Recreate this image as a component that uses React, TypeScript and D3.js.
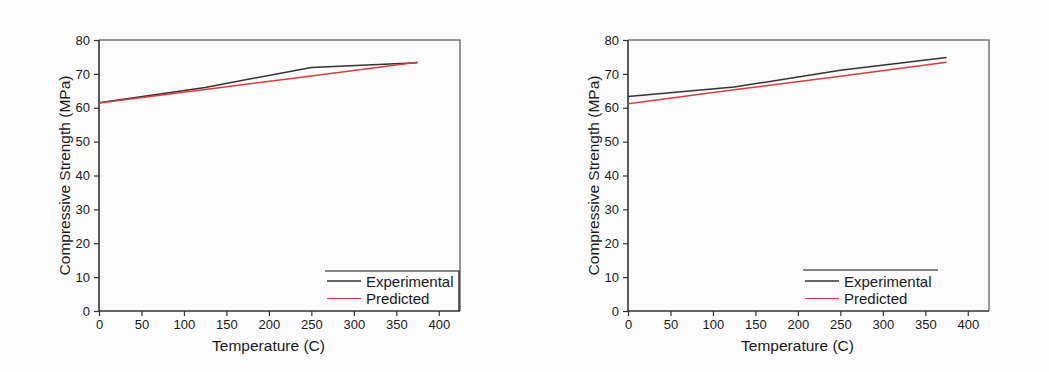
import React, { useEffect, useRef } from "react";
import * as d3 from "d3";

// temperatures where the curves were sampled
const temps = [0, 125, 250, 375];

// left panel
const leftExperimental = [61.5, 66.0, 71.9, 73.3];
const leftPredicted = [61.4, 65.4, 69.4, 73.4];

// right panel
const rightExperimental = [63.3, 66.1, 71.1, 74.8];
const rightPredicted = [61.2, 65.3, 69.3, 73.4];

const xTicks = [0, 50, 100, 150, 200, 250, 300, 350, 400];
const yTicks = [0, 10, 20, 30, 40, 50, 60, 70, 80];
const legendLabels = ["Experimental", "Predicted"];

const FONT = "'Liberation Sans', Arial, sans-serif";

function Panel({ left, experimental, predicted, legendBox }) {
  const gRef = useRef(null);
  const top = 40;
  const bottom = 311;
  const right = left + 361;

  useEffect(() => {
    const g = d3.select(gRef.current);
    g.selectAll("*").remove();

    const x = d3.scaleLinear().domain([0, 425]).range([left, right]);
    const y = d3.scaleLinear().domain([0, 80]).range([bottom, top]);

    // frame (top + right lighter)
    g.append("path")
      .attr("d", `M${left},${top}H${right}V${bottom}`)
      .attr("fill", "none")
      .attr("stroke", "#777")
      .attr("stroke-width", 1.5);

    // x axis
    const xa = g.append("g").attr("transform", `translate(0,${bottom})`);
    xa.call(
      d3.axisBottom(x).tickValues(d3.range(0, 426, 25)).tickSize(3).tickFormat(() => "")
    );
    xa.call(
      d3.axisBottom(x).tickValues(xTicks).tickSize(5).tickPadding(4)
    );
    xa.selectAll("path.domain").remove();

    const ya = g.append("g").attr("transform", `translate(${left},0)`);
    ya.call(
      d3.axisLeft(y).tickValues(d3.range(0, 81, 5)).tickSize(3).tickFormat(() => "")
    );
    ya.call(d3.axisLeft(y).tickValues(yTicks).tickSize(5).tickPadding(4));
    ya.selectAll("path.domain").remove();

    g.selectAll(".tick line").attr("stroke", "#333").attr("stroke-width", 1.2);
    g.selectAll(".tick text")
      .attr("fill", "#1a1a1a")
      .style("font-family", FONT)
      .style("font-size", "13px");

    // axis lines
    g.append("path")
      .attr("d", `M${left},${top}V${bottom}H${right}`)
      .attr("fill", "none")
      .attr("stroke", "#333")
      .attr("stroke-width", 1.6);

    const line = d3
      .line<number>()
      .x((_, i) => x(temps[i]))
      .y((d) => y(d));

    g.append("path")
      .datum(experimental)
      .attr("d", line)
      .attr("fill", "none")
      .attr("stroke", "#333")
      .attr("stroke-width", 1.5)
      .attr("stroke-linejoin", "round");

    g.append("path")
      .datum(predicted)
      .attr("d", line)
      .attr("fill", "none")
      .attr("stroke", "#e03a3a")
      .attr("stroke-width", 1.5);

    // titles
    g.append("text")
      .attr("x", (left + right) / 2 - 11)
      .attr("y", 351)
      .attr("text-anchor", "middle")
      .attr("fill", "#1a1a1a")
      .style("font-family", FONT)
      .style("font-size", "15.5px")
      .text("Temperature (C)");

    g.append("text")
      .attr("transform", `translate(${left - 29},${(top + bottom) / 2}) rotate(-90)`)
      .attr("text-anchor", "middle")
      .attr("fill", "#1a1a1a")
      .style("font-family", FONT)
      .style("font-size", "15.5px")
      .text("Compressive Strength (MPa)");

    // legend
    const lg = g.append("g");
    lg.append("path")
      .attr("d", legendBox.path)
      .attr("fill", "none")
      .attr("stroke", "#111")
      .attr("stroke-width", 1.2);
    const colors = ["#333", "#e03a3a"];
    legendLabels.forEach((label, i) => {
      const ly = 281 + i * 17.5;
      lg.append("line")
        .attr("x1", legendBox.x)
        .attr("x2", legendBox.x + 34)
        .attr("y1", ly)
        .attr("y2", ly)
        .attr("stroke", colors[i])
        .attr("stroke-width", i === 0 ? 1.6 : 1.2);
      lg.append("text")
        .attr("x", legendBox.x + 39)
        .attr("y", ly + 5.5)
        .attr("fill", "#1a1a1a")
        .style("font-family", FONT)
        .style("font-size", "15px")
        .text(label);
    });
  }, [left, right, experimental, predicted, legendBox]);

  return <g ref={gRef} />;
}

const leftLegend = { x: 327, path: "M325,271H459V311" };
const rightLegend = { x: 805, path: "M803,270H938" };

export default function App() {
  return (
    <svg
      width={1049}
      height={372}
      style={{ position: "absolute", left: 0, top: 0, background: "#fbfbfb" }}
    >
      <Panel
        left={99}
        experimental={leftExperimental}
        predicted={leftPredicted}
        legendBox={leftLegend}
      />
      <Panel
        left={628}
        experimental={rightExperimental}
        predicted={rightPredicted}
        legendBox={rightLegend}
      />
    </svg>
  );
}
